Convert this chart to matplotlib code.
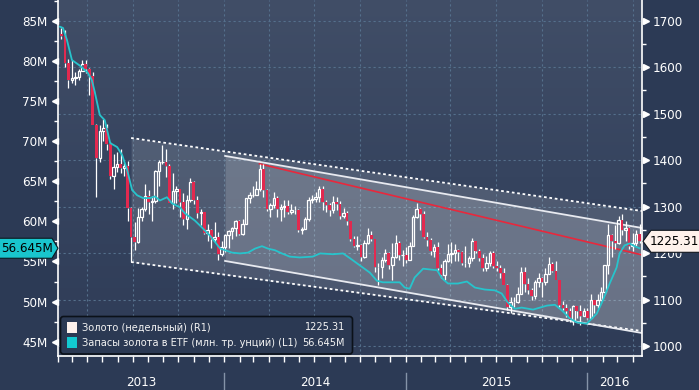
import matplotlib
matplotlib.use('Agg')
import matplotlib.pyplot as plt
import matplotlib.dates as mdates
import matplotlib.transforms as mtrans
from matplotlib import font_manager as fm
from matplotlib.patches import Polygon, FancyBboxPatch, Rectangle
from matplotlib.colors import LinearSegmentedColormap
from matplotlib.ticker import MultipleLocator, FuncFormatter
import numpy as np
import pandas as pd

# weekly gold candles (Friday of each week), first week 2013-02-08
first_week = '2013-02-08'
opens = [1672, 1667, 1609, 1572, 1576, 1578, 1592, 1606, 1595, 1581, 1476, 1405, 1462, 1470, 1435, 1365, 1386, 1392, 1383, 1387,
         1297, 1234, 1223, 1277, 1295, 1322, 1310, 1313, 1377, 1395, 1396, 1387, 1308, 1333, 1338, 1310, 1273, 1315, 1352, 1315,
         1287, 1288, 1244, 1250, 1231, 1235, 1198, 1214, 1238, 1248, 1254, 1270, 1240, 1263, 1318, 1324, 1326, 1338, 1380, 1335,
         1294, 1303, 1318, 1294, 1300, 1302, 1289, 1293, 1292, 1250, 1252, 1274, 1315, 1316, 1320, 1337, 1310, 1303, 1293, 1309,
         1305, 1280, 1287, 1268, 1230, 1216, 1218, 1192, 1222, 1238, 1231, 1171, 1169, 1185, 1201, 1175, 1191, 1222, 1195, 1195,
         1186, 1216, 1277, 1294, 1283, 1234, 1228, 1204, 1213, 1167, 1152, 1183, 1199, 1201, 1207, 1203, 1179, 1178, 1189, 1225,
         1205, 1190, 1168, 1179, 1201, 1173, 1168, 1157, 1132, 1085, 1095, 1094, 1113, 1160, 1134, 1121, 1108, 1137, 1146, 1137,
         1156, 1177, 1162, 1142, 1088, 1081, 1076, 1057, 1086, 1076, 1065, 1076, 1061, 1098, 1089, 1098, 1117, 1174, 1239, 1227,
         1222, 1271, 1249, 1255, 1216, 1222, 1240]
highs = [1684, 1680, 1617, 1615, 1590, 1597, 1616, 1615, 1598, 1590, 1478, 1476, 1488, 1478, 1440, 1414, 1417, 1424, 1393, 1398,
         1300, 1267, 1297, 1300, 1348, 1336, 1323, 1379, 1400, 1433, 1424, 1392, 1372, 1345, 1338, 1329, 1326, 1361, 1356, 1323,
         1295, 1288, 1262, 1251, 1267, 1246, 1226, 1240, 1250, 1256, 1271, 1272, 1274, 1319, 1332, 1345, 1355, 1392, 1392, 1337,
         1308, 1331, 1322, 1306, 1315, 1315, 1305, 1301, 1294, 1256, 1278, 1321, 1326, 1332, 1345, 1345, 1315, 1307, 1322, 1320,
         1311, 1296, 1291, 1270, 1237, 1236, 1219, 1228, 1255, 1248, 1231, 1178, 1192, 1208, 1202, 1221, 1238, 1225, 1206, 1212,
         1223, 1282, 1307, 1297, 1290, 1245, 1232, 1219, 1224, 1176, 1187, 1219, 1224, 1219, 1209, 1205, 1215, 1194, 1232, 1227,
         1208, 1197, 1193, 1205, 1204, 1184, 1174, 1167, 1133, 1105, 1105, 1127, 1169, 1170, 1146, 1125, 1142, 1157, 1149, 1167,
         1191, 1180, 1182, 1143, 1097, 1090, 1082, 1088, 1087, 1088, 1081, 1082, 1112, 1098, 1112, 1128, 1175, 1263, 1240, 1261,
         1280, 1283, 1270, 1256, 1243, 1250, 1262]
lows = [1661, 1600, 1555, 1565, 1562, 1572, 1591, 1587, 1540, 1476, 1321, 1395, 1442, 1422, 1359, 1338, 1375, 1372, 1366, 1269,
        1180, 1207, 1222, 1270, 1290, 1285, 1270, 1308, 1345, 1391, 1364, 1307, 1294, 1307, 1277, 1261, 1251, 1310, 1305, 1276,
        1261, 1240, 1227, 1211, 1223, 1186, 1193, 1202, 1211, 1230, 1237, 1238, 1238, 1262, 1307, 1321, 1325, 1334, 1321, 1291,
        1277, 1297, 1277, 1268, 1278, 1285, 1284, 1284, 1246, 1240, 1251, 1270, 1308, 1310, 1310, 1292, 1288, 1280, 1286, 1293,
        1273, 1275, 1260, 1227, 1214, 1207, 1183, 1190, 1219, 1225, 1160, 1131, 1147, 1180, 1165, 1142, 1190, 1186, 1173, 1178,
        1185, 1216, 1276, 1250, 1232, 1216, 1195, 1191, 1164, 1147, 1142, 1181, 1179, 1183, 1184, 1174, 1169, 1170, 1182, 1201,
        1182, 1162, 1162, 1172, 1167, 1162, 1146, 1131, 1077, 1072, 1085, 1093, 1111, 1117, 1113, 1098, 1101, 1127, 1105, 1131,
        1155, 1159, 1141, 1085, 1077, 1063, 1052, 1046, 1061, 1046, 1064, 1058, 1061, 1071, 1081, 1097, 1111, 1156, 1191, 1208,
        1219, 1239, 1225, 1208, 1205, 1216, 1222]
closes = [1667, 1609, 1572, 1576, 1578, 1592, 1606, 1595, 1581, 1476, 1405, 1462, 1470, 1435, 1365, 1386, 1392, 1383, 1387, 1297,
          1234, 1223, 1277, 1295, 1322, 1310, 1313, 1377, 1395, 1396, 1387, 1308, 1333, 1338, 1310, 1273, 1315, 1352, 1315, 1287,
          1288, 1244, 1250, 1231, 1235, 1198, 1214, 1238, 1248, 1254, 1270, 1240, 1263, 1318, 1324, 1326, 1338, 1380, 1335, 1294,
          1303, 1318, 1294, 1300, 1302, 1289, 1293, 1292, 1250, 1252, 1274, 1315, 1316, 1320, 1337, 1310, 1303, 1293, 1309, 1305,
          1280, 1287, 1268, 1230, 1216, 1218, 1192, 1222, 1238, 1231, 1171, 1169, 1185, 1201, 1175, 1191, 1222, 1195, 1196, 1186,
          1216, 1277, 1294, 1283, 1234, 1228, 1204, 1213, 1167, 1152, 1183, 1199, 1201, 1207, 1203, 1179, 1178, 1189, 1225, 1205,
          1190, 1168, 1179, 1201, 1173, 1168, 1157, 1132, 1085, 1095, 1094, 1113, 1160, 1134, 1121, 1108, 1137, 1146, 1137, 1156,
          1177, 1162, 1142, 1088, 1081, 1076, 1057, 1086, 1076, 1065, 1076, 1061, 1098, 1089, 1098, 1117, 1174, 1239, 1227, 1222,
          1271, 1249, 1255, 1216, 1222, 1240, 1225.31]

# ETF gold holdings, mln troy oz (left axis)
etf_dates = ['2013-02-05', '2013-02-11', '2013-02-19', '2013-03-01', '2013-03-17', '2013-04-02', '2013-04-10', '2013-04-16',
             '2013-04-26', '2013-05-06', '2013-05-17', '2013-05-31', '2013-06-10', '2013-06-20', '2013-06-30', '2013-07-10',
             '2013-07-22', '2013-08-05', '2013-08-15', '2013-08-25', '2013-09-08', '2013-09-18', '2013-10-04', '2013-10-14',
             '2013-11-03', '2013-11-13', '2013-12-03', '2013-12-14', '2013-12-24', '2014-01-03', '2014-01-17', '2014-02-02',
             '2014-02-18', '2014-03-04', '2014-03-18', '2014-03-30', '2014-04-13', '2014-04-27', '2014-05-13', '2014-06-02',
             '2014-06-28', '2014-07-13', '2014-08-08', '2014-08-28', '2014-09-11', '2014-10-01', '2014-10-21', '2014-11-04',
             '2014-11-16', '2014-12-20', '2014-12-30', '2015-01-09', '2015-01-19', '2015-02-05', '2015-02-19', '2015-03-05',
             '2015-03-15', '2015-03-27', '2015-04-16', '2015-05-04', '2015-05-20', '2015-06-09', '2015-06-29', '2015-07-13',
             '2015-07-25', '2015-08-08', '2015-08-22', '2015-09-14', '2015-10-12', '2015-10-28', '2015-11-11', '2015-11-27',
             '2015-12-11', '2015-12-31', '2016-01-20', '2016-02-01', '2016-02-15', '2016-02-29', '2016-03-06', '2016-03-16',
             '2016-03-26', '2016-04-05', '2016-04-15']
etf_vals = [84.25, 84.1, 82.6, 80.1, 79.4, 78.5, 77.6, 76.1, 73.25, 72.6, 69.75, 69.25, 68.25, 66.4, 63.9, 63.25,
            62.9, 62.9, 63.1, 62.6, 63.0, 62.25, 61.75, 61.0, 60.1, 59.5, 58.25, 57.4, 56.6, 56.4, 56.1, 56.0,
            56.1, 56.6, 56.9, 56.6, 56.4, 56.0, 55.6, 55.5, 55.6, 56.0, 55.9, 56.0, 55.4, 54.5, 53.6, 52.6,
            52.4, 52.4, 51.75, 51.6, 53.0, 54.1, 54.0, 53.9, 52.9, 52.25, 52.25, 52.5, 51.75, 51.5, 51.4, 51.0,
            49.9, 49.1, 49.25, 49.0, 49.5, 49.6, 48.9, 47.9, 47.4, 47.25, 48.5, 50.1, 52.25, 54.25, 56.0, 57.0,
            57.25, 56.9, 56.645]

# channel lines (price scale)
outer_x = ['2013-06-28', '2016-04-20']
outer_top = [1447.6, 1290.5]
outer_bot = [1180.7, 1032.3]
inner_x = ['2014-01-03', '2016-04-20']
inner_top = [1409, 1254]
inner_bot = [1183, 1028]
trend_x = ['2014-03-13', '2016-04-20']
trend_y = [1392, 1196]

last_price = 1225.31
last_etf = 56.645
legend_labels = ['Золото (недельный) (R1)', 'Запасы золота в ETF (млн. тр. унций) (L1)']
legend_values = ['1225.31', '56.645M']

# a narrow face looks closer to the terminal font; fall back to smaller DejaVu
names = {(f.name, str(f.stretch)) for f in fm.fontManager.ttflist}
if any(n == 'Liberation Sans Narrow' for n, s in names):
    plt.rcParams['font.family'] = ['Liberation Sans Narrow', 'DejaVu Sans']
    fs_tick, fs_leg, fs_box = 10, 8.6, 10.5
elif ('DejaVu Sans', 'condensed') in names:
    plt.rcParams['font.family'] = ['DejaVu Sans']
    plt.rcParams['font.stretch'] = 'condensed'
    fs_tick, fs_leg, fs_box = 9.5, 7.8, 9.5
else:
    plt.rcParams['font.family'] = ['DejaVu Sans']
    fs_tick, fs_leg, fs_box = 8.6, 7, 8.6

W, H = 699, 390
fig = plt.figure(figsize=(W / 100, H / 100), dpi=100, facecolor='#2c3a55')
rect = [58 / W, 1 - 355.5 / H, 584 / W, 355.5 / H]

bg = fig.add_axes(rect, zorder=0)
grad = np.linspace(0, 1, 256).reshape(-1, 1)
cmap = LinearSegmentedColormap.from_list('bb', ['#2f3c57', '#36445f', '#414e67'])
bg.imshow(grad, extent=[0, 1, 0, 1], origin='lower', aspect='auto', cmap=cmap)
bg.axis('off')

ax = fig.add_axes(rect)
ax2 = ax.twinx()
ax.set_zorder(2)
ax2.set_zorder(1)
ax.patch.set_visible(False)
ax2.patch.set_visible(False)

xmin, xmax = pd.Timestamp('2013-02-01'), pd.Timestamp('2016-04-20')
ax.set_xlim(xmin, xmax)
ax.set_ylim(43.28, 87.58)
ax2.set_ylim(979.6, 1744.5)

grid_kw = dict(color='#55708c', lw=0.8, ls=(0, (2, 2.5)), zorder=0.5)
for d in pd.date_range('2013-04-01', '2016-04-01', freq='QS'):
    ax2.axvline(d, **grid_kw)
for v in range(1000, 1800, 100):
    ax2.axhline(v, **grid_kw)

# channel
ox = pd.to_datetime(outer_x)
ix = pd.to_datetime(inner_x)
ax2.fill_between(ox, outer_bot, outer_top, color='white', alpha=0.13, lw=0, zorder=1)
ax2.fill_between(ix, inner_bot, inner_top, color='white', alpha=0.17, lw=0, zorder=1)
ax2.plot(ox, outer_top, color='white', lw=1.3, ls=(0, (1.5, 1.5)), zorder=2)
ax2.plot(ox, outer_bot, color='white', lw=1.3, ls=(0, (1.5, 1.5)), zorder=2)
ax2.plot(ix, inner_top, color='#e8eaf0', lw=1.3, zorder=2)
ax2.plot(ix, inner_bot, color='#e8eaf0', lw=1.3, zorder=2)
ax2.plot(pd.to_datetime(trend_x), trend_y, color='#e8283c', lw=1.2, zorder=2)

# candles
dates = pd.date_range(first_week, periods=len(closes), freq='7D')
o = np.array(opens, float)
c = np.array(closes, float)
hi = np.array(highs, float)
lo = np.array(lows, float)
body_lo = np.minimum(o, c)
body_hi = np.maximum(o, c)
body_h = np.maximum(body_hi - body_lo, 1.5)
up = c >= o
ax2.vlines(dates, lo, body_lo, color='white', lw=0.9, zorder=3)
ax2.vlines(dates, body_hi, hi, color='white', lw=0.9, zorder=3)
ax2.bar(dates[up], body_h[up], bottom=body_lo[up], width=5.0, facecolor='none',
        edgecolor='white', lw=0.9, zorder=4)
ax2.bar(dates[~up], body_h[~up], bottom=body_lo[~up], width=5.5, color='#e2294f', lw=0, zorder=4)

# ETF line
ax.plot(pd.to_datetime(etf_dates), etf_vals, color='#27c4cc', lw=1.3, zorder=5)

# axes styling
for a in (ax, ax2):
    for s in a.spines.values():
        s.set_visible(False)
ax.spines['left'].set_visible(True)
ax.spines['bottom'].set_visible(True)
ax2.spines['right'].set_visible(True)
for s in (ax.spines['left'], ax.spines['bottom'], ax2.spines['right']):
    s.set_color('white')
    s.set_linewidth(1.2)

ax.yaxis.set_major_locator(MultipleLocator(5))
ax.yaxis.set_minor_locator(MultipleLocator(2.5))
ax.yaxis.set_major_formatter(FuncFormatter(lambda v, p: f'{v:.0f}M'))
ax2.yaxis.set_major_locator(MultipleLocator(100))
ax2.yaxis.set_minor_locator(MultipleLocator(50))
ax2.yaxis.set_major_formatter(FuncFormatter(lambda v, p: f'{v:.0f}'))
ax.tick_params(axis='y', which='major', length=0, pad=7.5, labelsize=fs_tick, labelcolor='white')
ax.tick_params(axis='y', which='minor', length=3, width=1, color='white', direction='out')
ax2.tick_params(axis='y', which='major', length=0, pad=7.5, labelsize=fs_tick, labelcolor='white')
ax2.tick_params(axis='y', which='minor', length=3, width=1, color='white', direction='out')

ax.xaxis.set_major_locator(mdates.MonthLocator())
ax.tick_params(axis='x', which='major', length=4, width=1, color='white', direction='out',
               labelbottom=False)

# triangle markers on major ticks
tl = mtrans.offset_copy(mtrans.blended_transform_factory(ax.transAxes, ax.transData), fig, x=-3, units='dots')
for v in range(45, 90, 5):
    ax.plot([0], [v], marker='<', ms=5, color='white', transform=tl, clip_on=False, zorder=6)
tr = mtrans.offset_copy(mtrans.blended_transform_factory(ax2.transAxes, ax2.transData), fig, x=4, units='dots')
for v in range(1000, 1800, 100):
    ax2.plot([1], [v], marker='>', ms=5, color='white', transform=tr, clip_on=False, zorder=6)

# year band
bt = mtrans.blended_transform_factory(ax.transData, ax.transAxes)
for yr in range(2013, 2017):
    lo_d = max(pd.Timestamp(f'{yr}-01-01'), xmin)
    hi_d = min(pd.Timestamp(f'{yr + 1}-01-01'), xmax)
    ax.text(lo_d + (hi_d - lo_d) / 2, -0.075, str(yr), transform=bt, ha='center', va='center',
            color='white', fontsize=fs_tick, clip_on=False)
    if yr > 2013:
        ax.plot([pd.Timestamp(f'{yr}-01-01')] * 2, [-0.049, -0.1], transform=bt, color='#8593a8',
                lw=1, clip_on=False)

# last value labels
ydisp_p = ax2.transData.transform((0, last_price))[1]
ydisp_e = ax.transData.transform((0, last_etf))[1]
hh = 11
fig.add_artist(Polygon([(643, ydisp_p), (651, ydisp_p + hh), (700, ydisp_p + hh), (700, ydisp_p - hh),
                        (651, ydisp_p - hh)], closed=True, transform=None, fc='#fff2ec', ec='#10151c',
                       lw=0.8, zorder=10))
fig.text(674 / W, ydisp_p / H, f'{last_price:.2f}', ha='center', va='center', color='black',
         fontsize=fs_box, zorder=11)
fig.add_artist(Polygon([(-1, ydisp_e + 10), (52, ydisp_e + 10), (58, ydisp_e), (52, ydisp_e - 10),
                        (-1, ydisp_e - 10)], closed=True, transform=None, fc='#19c5cd', ec='#0a1a20',
                       lw=0.8, zorder=10))
fig.text(27 / W, ydisp_e / H, f'{last_etf}M', ha='center', va='center', color='black',
         fontsize=fs_box, zorder=11)

# legend
fig.add_artist(FancyBboxPatch((60.5, H - 354), 292, 37.5, boxstyle='round,pad=0,rounding_size=3',
                              transform=None, fc='#2b3953', ec='#0b1119', lw=1.2, zorder=10))
for k, (lab, val, col) in enumerate(zip(legend_labels, legend_values, ['#fdf1ec', '#12c9d1'])):
    yc = 327.5 + 15 * k
    fig.add_artist(Rectangle((67, H - yc - 5.5), 10, 11, transform=None, fc=col, lw=0, zorder=11))
    fig.text(82 / W, (H - yc) / H, lab, ha='left', va='center', color='#f4f4f4', fontsize=fs_leg, zorder=12)
    fig.text(345 / W, (H - yc) / H, val, ha='right', va='center', color='#f4f4f4', fontsize=fs_leg, zorder=12)

fig.savefig('out.png', dpi=100, facecolor=fig.get_facecolor())
